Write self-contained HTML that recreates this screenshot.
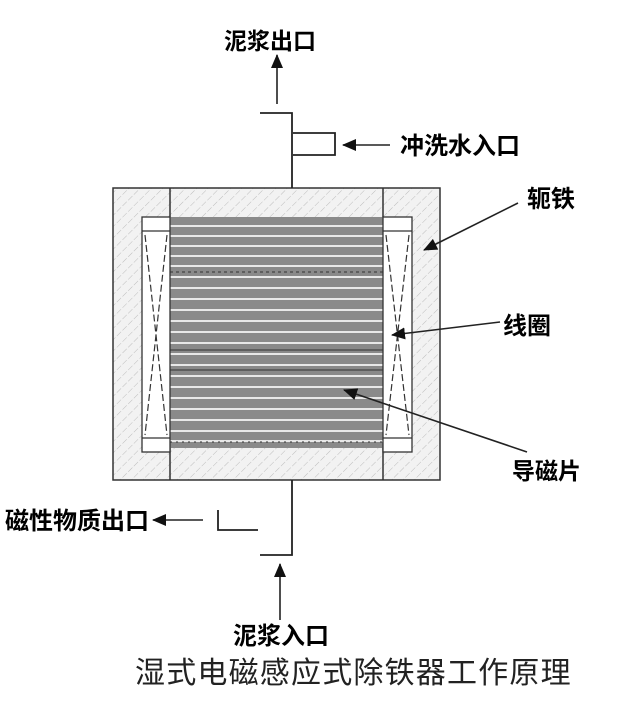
<!DOCTYPE html>
<html><head><meta charset="utf-8"><style>
html,body{margin:0;padding:0;background:#fff;}
svg{display:block}
.b{font-family:"Liberation Sans","Noto Sans CJK SC",sans-serif;font-weight:bold;fill:#000}
</style></head><body>
<svg width="618" height="708" viewBox="0 0 618 708" xmlns="http://www.w3.org/2000/svg">
<defs>
<pattern id="h" width="8" height="8" patternUnits="userSpaceOnUse" patternTransform="rotate(45)">
<rect width="8" height="8" fill="#f2f2f2"/>
<line x1="0" y1="0" x2="0" y2="8" stroke="#bdbdbd" stroke-width="1" stroke-dasharray="3 2"/>
</pattern>
<marker id="a" markerWidth="14" markerHeight="12" refX="13" refY="6" orient="auto" markerUnits="userSpaceOnUse" viewBox="0 0 14 12"><path d="M0,0 L14,6 L0,12 z" fill="#111"/></marker>
</defs>
<rect x="113" y="188" width="327" height="292" fill="url(#h)" stroke="#333" stroke-width="1.5"/>
<line x1="170" y1="188" x2="170" y2="480" stroke="#333" stroke-width="1.5"/>
<line x1="383" y1="188" x2="383" y2="480" stroke="#333" stroke-width="1.5"/>
<rect x="170" y="217" width="213" height="231" fill="#8a8a8a"/>
<g stroke="#e8e8e8" stroke-width="2">
<line x1="170" y1="226" x2="383" y2="226"/><line x1="170" y1="236" x2="383" y2="236"/>
<line x1="170" y1="246" x2="383" y2="246"/><line x1="170" y1="256" x2="383" y2="256"/>
<line x1="170" y1="266" x2="383" y2="266"/><line x1="170" y1="277" x2="383" y2="277"/>
<line x1="170" y1="288" x2="383" y2="288"/><line x1="170" y1="299" x2="383" y2="299"/>
<line x1="170" y1="310" x2="383" y2="310"/><line x1="170" y1="321" x2="383" y2="321"/>
<line x1="170" y1="332" x2="383" y2="332"/><line x1="170" y1="343" x2="383" y2="343"/>
<line x1="170" y1="354" x2="383" y2="354"/><line x1="170" y1="365" x2="383" y2="365"/>
<line x1="170" y1="376" x2="383" y2="376"/><line x1="170" y1="387" x2="383" y2="387"/>
<line x1="170" y1="398" x2="383" y2="398"/><line x1="170" y1="409" x2="383" y2="409"/>
<line x1="170" y1="420" x2="383" y2="420"/><line x1="170" y1="431" x2="383" y2="431"/>
<line x1="170" y1="441" x2="383" y2="441"/>
</g>
<g stroke="#333" stroke-width="1">
<line x1="170" y1="272" x2="383" y2="272" stroke-dasharray="3 3"/>
<line x1="170" y1="350" x2="383" y2="350"/>
<line x1="170" y1="370" x2="383" y2="370"/>
<line x1="170" y1="442" x2="383" y2="442" stroke-dasharray="2 4"/>
</g>
<g stroke="#333" stroke-width="1.3" fill="#fff">
<rect x="142" y="217" width="28" height="235"/>
<rect x="383" y="217" width="29" height="235"/>
<line x1="142" y1="231" x2="170" y2="231"/><line x1="142" y1="438" x2="170" y2="438"/>
<line x1="383" y1="231" x2="412" y2="231"/><line x1="383" y1="438" x2="412" y2="438"/>
</g>
<g stroke="#333" stroke-width="1.2" stroke-dasharray="7 3" fill="none">
<line x1="145" y1="235" x2="167" y2="435"/><line x1="167" y1="235" x2="145" y2="435"/>
<line x1="386" y1="235" x2="409" y2="435"/><line x1="409" y1="235" x2="386" y2="435"/>
</g>
<g stroke="#222" stroke-width="1.8" fill="none">
<polyline points="260,113 292,113 292,188"/>
<polyline points="293,133 335,133 335,155 293,155"/>
<polyline points="260,555 292,555 292,480"/>
<polyline points="218,510 218,530 258,530"/>
</g>
<g stroke="#222" stroke-width="1.6" fill="none">
<line x1="277" y1="104" x2="277" y2="55" marker-end="url(#a)"/>
<line x1="390" y1="145" x2="343" y2="145" marker-end="url(#a)"/>
<line x1="203" y1="520" x2="153" y2="520" marker-end="url(#a)"/>
<line x1="280" y1="620" x2="280" y2="564" marker-end="url(#a)"/>
<line x1="518" y1="203" x2="424" y2="250" marker-end="url(#a)"/>
<line x1="500" y1="322" x2="392" y2="335" marker-end="url(#a)"/>
<line x1="527" y1="452" x2="344" y2="390" marker-end="url(#a)"/>
</g>
<text class="b" x="224" y="49" font-size="23">泥浆出口</text>
<text class="b" x="400" y="154" font-size="24">冲洗水入口</text>
<text class="b" x="527" y="207" font-size="24">轭铁</text>
<text class="b" x="503" y="334" font-size="24">线圈</text>
<text class="b" x="512" y="479" font-size="23">导磁片</text>
<text class="b" x="5" y="529" font-size="24">磁性物质出口</text>
<text class="b" x="233" y="644" font-size="24">泥浆入口</text>
<text x="135" y="683" font-size="30" letter-spacing="1.2" font-family="Liberation Sans,Noto Sans CJK SC,sans-serif" fill="#222">湿式电磁感应式除铁器工作原理</text>
</svg>
</body></html>
